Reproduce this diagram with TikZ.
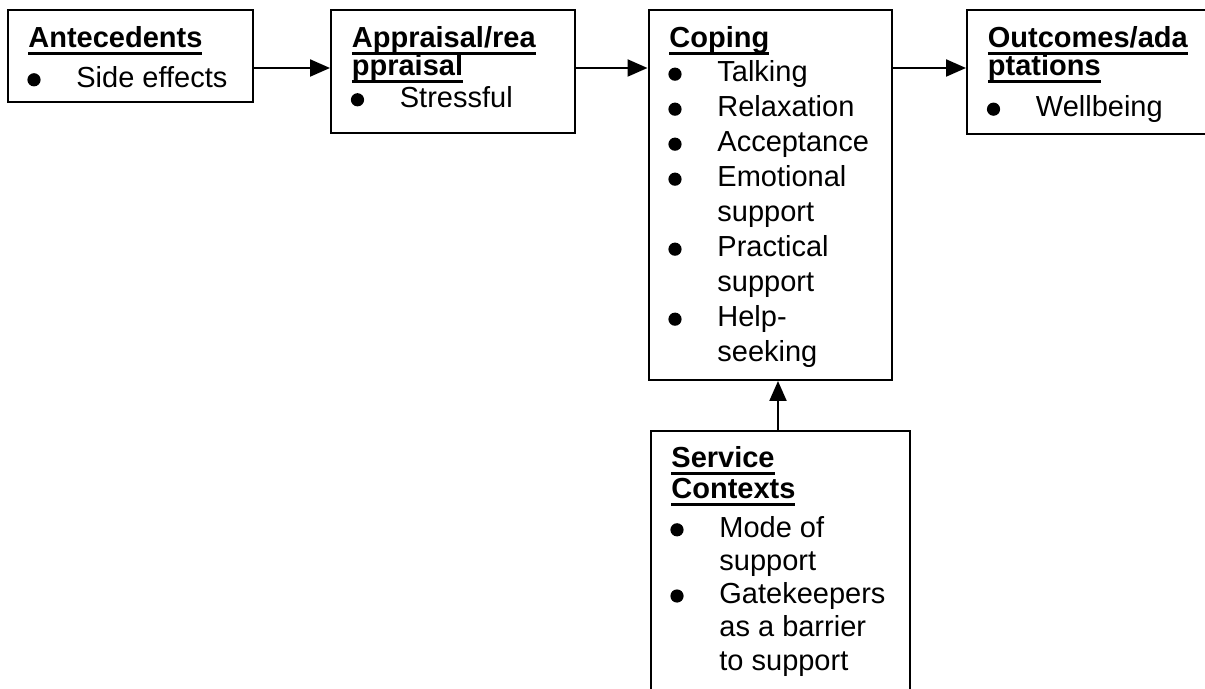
\documentclass[tikz,border=0pt]{standalone}
\usepackage{fontspec}
\setmainfont{Liberation Sans}
\usetikzlibrary{arrows.meta,fit}
% underlined heading text with a thick rule just below the baseline
\newcommand\hdul[1]{\setbox0\hbox{#1}\rlap{\rule[-3.7pt]{\wd0}{1.5pt}}\box0}
% bulleted entry: name, left edge of its box, baseline, text
\newcommand\bitem[4]{%
  \fill (#2+26.5,#3-7.5) circle[radius=3.3pt];
  \node[txt] (#1) at (#2+68.5,#3) {#4};}
% continuation line of a bulleted entry
\newcommand\bcont[4]{\node[txt] (#1) at (#2+68.5,#3) {#4};}
% heading line
\newcommand\bhead[4]{\node[head] (#1) at (#2+20.5,#3) {\hdul{#4}};}
\begin{document}
\begin{tikzpicture}[x=0.5pt,y=-0.5pt,
  box/.style={draw,line width=1pt,inner sep=0pt},
  txt/.style={anchor=base west,inner sep=0pt,font=\fontsize{14.5pt}{18pt}\selectfont},
  head/.style={txt,font=\fontsize{14.5pt}{18pt}\selectfont\bfseries},
  arr/.style={line width=1.1pt,-{Triangle[length=10pt,width=8.5pt]}}]
\useasboundingbox (0,0) rectangle (1205,689);
\fill[white] (0,0) rectangle (1205,689);
\clip (0,0) rectangle (1205,689);

% frames
\node[box,fit={(7.5,10) (252.5,102.5)}] (ante) {};
\node[box,fit={(331,10) (575,133)}] (appr) {};
\node[box,fit={(648.5,10) (892,380)}] (cope) {};
\node[box,fit={(967,10) (1215,134)}] (outc) {};
\node[box,fit={(650.5,431) (910,700)}] (serv) {};

% Antecedents
\bhead{anteh}{7.5}{47.3}{Antecedents}
\bitem{ante1}{7.5}{87.3}{Side effects}

% Appraisal
\bhead{apprh1}{331}{47.3}{Appraisal/rea}
\bhead{apprh2}{331}{76}{ppraisal}
\bitem{appr1}{331}{107.3}{Stressful}

% Coping
\bhead{copeh}{648.5}{47.3}{Coping}
\bitem{cope1}{648.5}{81.7}{Talking}
\bitem{cope2}{648.5}{116.7}{Relaxation}
\bitem{cope3}{648.5}{151.7}{Acceptance}
\bitem{cope4}{648.5}{186.7}{Emotional}
\bcont{cope4b}{648.5}{221.7}{support}
\bitem{cope5}{648.5}{256.7}{Practical}
\bcont{cope5b}{648.5}{291.7}{support}
\bitem{cope6}{648.5}{326.7}{Help-}
\bcont{cope6b}{648.5}{361.7}{seeking}

% Outcomes
\bhead{outch1}{967}{47.3}{Outcomes/ada}
\bhead{outch2}{967}{76}{ptations}
\bitem{outc1}{967}{116.7}{Wellbeing}

% Service contexts
\bhead{servh1}{650.5}{467.3}{Service}
\bhead{servh2}{650.5}{498.3}{Contexts}
\bitem{serv1}{650.5}{537.3}{Mode of}
\bcont{serv1b}{650.5}{570.5}{support}
\bitem{serv2}{650.5}{603.5}{Gatekeepers}
\bcont{serv2b}{650.5}{636.5}{as a barrier}
\bcont{serv2c}{650.5}{670}{to support}

% connectors
\coordinate (row) at (0,68);
\coordinate (col) at (778,0);
\draw[arr] (ante.east |- row) -- (appr.west |- row);
\draw[arr] (appr.east |- row) -- (cope.west |- row);
\draw[arr] (cope.east |- row) -- (outc.west |- row);
\draw[arr] (serv.north -| col) -- (cope.south -| col);
\end{tikzpicture}
\end{document}
